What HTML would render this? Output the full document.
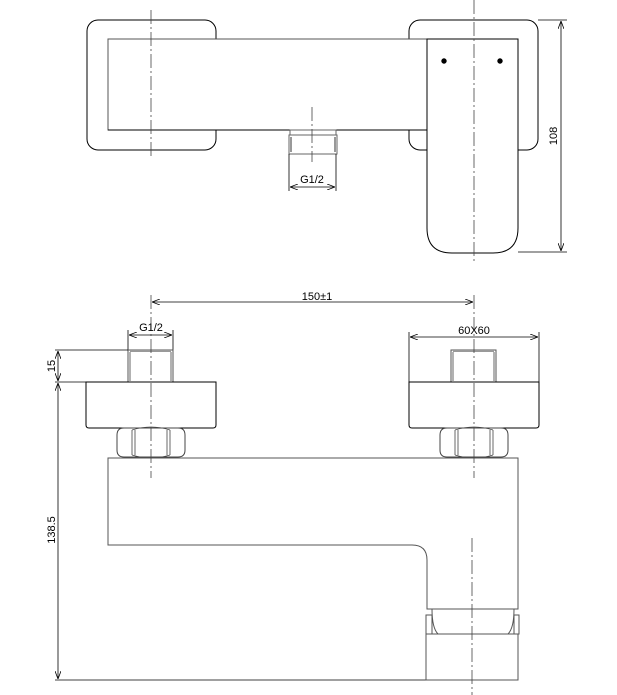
<!DOCTYPE html>
<html><head><meta charset="utf-8"><style>
html,body{margin:0;padding:0;background:#fff;width:617px;height:695px;overflow:hidden}
svg{display:block}
text{font-family:"Liberation Sans",sans-serif;font-size:11px;fill:#000}
</style></head><body>
<svg width="617" height="695" viewBox="0 0 617 695" xmlns="http://www.w3.org/2000/svg">
<defs>
<marker id="a" markerWidth="8" markerHeight="6" refX="8" refY="3" orient="auto-start-reverse" markerUnits="userSpaceOnUse"><path d="M0,0 L8,3 L0,6" fill="none" stroke="#000" stroke-width="0.8"/></marker>
</defs>
<g fill="none" stroke="#000" stroke-width="1">
<!-- TOP VIEW -->
<rect x="87" y="20" width="129" height="130" rx="11" fill="#fff"/>
<rect x="409" y="20" width="129" height="130" rx="11" fill="#fff"/>
<rect x="108" y="39" width="410" height="91" fill="#fff" stroke="#555"/>
<line x1="108" y1="130" x2="427" y2="130"/>
<path d="M427,39 H518 V228 Q518,253 493,253 H452 Q427,253 427,228 Z" fill="#fff"/>
<circle cx="444" cy="61" r="2.2" fill="#000"/>
<circle cx="500" cy="61" r="2.2" fill="#000"/>
<!-- nipple -->
<rect x="290" y="130" width="46" height="5" stroke="#666"/>
<rect x="289" y="135" width="48" height="19" stroke="#666"/>
<line x1="291" y1="137" x2="291" y2="152" stroke="#999" stroke-width="2"/>
<line x1="335" y1="137" x2="335" y2="152" stroke="#999" stroke-width="2"/>
<line x1="289" y1="154" x2="289" y2="191" stroke-width="0.8"/>
<line x1="336" y1="154" x2="336" y2="191" stroke-width="0.8"/>
<line x1="290" y1="187" x2="335" y2="187" stroke-width="0.8" marker-start="url(#a)" marker-end="url(#a)"/>
<!-- 108 dim -->
<line x1="538" y1="20" x2="567" y2="20" stroke-width="0.8"/>
<line x1="518" y1="252" x2="567" y2="252" stroke-width="0.8"/>
<line x1="561" y1="21" x2="561" y2="251" stroke-width="0.8" marker-start="url(#a)" marker-end="url(#a)"/>
<!-- centerlines top -->
<g stroke-dasharray="14,3,2,3" stroke-width="0.8" stroke="#444">
<line x1="151" y1="10" x2="151" y2="157"/>
<line x1="474" y1="0" x2="474" y2="262"/>
<line x1="312" y1="107" x2="312" y2="162"/>
</g>

<!-- FRONT VIEW -->
<line x1="152" y1="302" x2="473" y2="302" stroke-width="0.8" marker-start="url(#a)" marker-end="url(#a)"/>
<!-- G1/2 -->
<line x1="128" y1="330" x2="128" y2="352" stroke-width="0.8"/>
<line x1="173" y1="330" x2="173" y2="352" stroke-width="0.8"/>
<line x1="129" y1="335" x2="172" y2="335" stroke-width="0.8" marker-start="url(#a)" marker-end="url(#a)"/>
<!-- left nipple -->
<rect x="128" y="350" width="45" height="32" fill="#fff" stroke="#555"/>
<line x1="130" y1="351" x2="171" y2="351" stroke="#999" stroke-width="2"/>
<line x1="130" y1="352" x2="130" y2="381" stroke="#999" stroke-width="1.5"/>
<line x1="171" y1="352" x2="171" y2="381" stroke="#999" stroke-width="1.5"/>
<!-- 15 dim -->
<line x1="55" y1="350" x2="128" y2="350" stroke-width="0.8"/>
<line x1="55" y1="382" x2="87" y2="382" stroke-width="0.8"/>
<line x1="58" y1="351" x2="58" y2="381" stroke-width="0.8" marker-start="url(#a)" marker-end="url(#a)"/>
<line x1="58" y1="383" x2="58" y2="679" stroke-width="0.8" marker-start="url(#a)" marker-end="url(#a)"/>
<line x1="55" y1="680" x2="427" y2="680" stroke-width="0.8"/>
<!-- left flange -->
<path d="M86,382 H216 V425 Q216,428 213,428 H89 Q86,428 86,425 Z" fill="#fff"/>
<!-- left nut -->
<path d="M124,428 H178 Q185,428 185,435 V450 Q185,457 178,457 H124 Q117,457 117,450 V435 Q117,428 124,428 Z" stroke="#444"/>
<path d="M132,430 Q151,424 170,430 M132,455 Q151,461 170,455" stroke="#444" stroke-width="0.8"/>
<line x1="132" y1="430" x2="132" y2="455" stroke="#444" stroke-width="0.8"/><line x1="135" y1="430" x2="135" y2="455" stroke="#444" stroke-width="0.8"/>
<line x1="167" y1="430" x2="167" y2="455" stroke="#444" stroke-width="0.8"/><line x1="170" y1="430" x2="170" y2="455" stroke="#444" stroke-width="0.8"/>
<!-- right nipple & flange -->
<rect x="451" y="350" width="45" height="32" fill="#fff" stroke="#555"/>
<line x1="453" y1="351" x2="494" y2="351" stroke="#999" stroke-width="2"/>
<line x1="453" y1="352" x2="453" y2="381" stroke="#999" stroke-width="1.5"/>
<line x1="494" y1="352" x2="494" y2="381" stroke="#999" stroke-width="1.5"/>
<line x1="409" y1="332" x2="409" y2="382" stroke-width="0.8"/>
<line x1="539" y1="332" x2="539" y2="382" stroke-width="0.8"/>
<line x1="410" y1="337" x2="538" y2="337" stroke-width="0.8" marker-start="url(#a)" marker-end="url(#a)"/>
<path d="M409,382 H539 V425 Q539,428 536,428 H412 Q409,428 409,425 Z" fill="#fff"/>
<!-- right nut -->
<path d="M447,428 H501 Q508,428 508,435 V450 Q508,457 501,457 H447 Q440,457 440,450 V435 Q440,428 447,428 Z" stroke="#444"/>
<path d="M455,430 Q474,424 493,430 M455,455 Q474,461 493,455" stroke="#444" stroke-width="0.8"/>
<line x1="455" y1="430" x2="455" y2="455" stroke="#444" stroke-width="0.8"/><line x1="458" y1="430" x2="458" y2="455" stroke="#444" stroke-width="0.8"/>
<line x1="490" y1="430" x2="490" y2="455" stroke="#444" stroke-width="0.8"/><line x1="493" y1="430" x2="493" y2="455" stroke="#444" stroke-width="0.8"/>
<!-- body -->
<path d="M108,458 H518 V609 H427 V560 Q427,545 412,545 H108 Z" stroke="#555"/>
<!-- aerator -->
<path d="M432,609 Q432,628 438,634 M514,609 Q514,628 508,634" stroke="#555"/>
<rect x="426" y="615" width="6" height="19" stroke="#555"/>
<rect x="514" y="615" width="5" height="19" stroke="#555"/>
<rect x="426" y="634" width="92" height="46" stroke="#555"/>
<!-- centerlines front -->
<g stroke-dasharray="14,3,2,3" stroke-width="0.8" stroke="#444">
<line x1="151" y1="295" x2="151" y2="478"/>
<line x1="474" y1="295" x2="474" y2="478"/>
<line x1="472" y1="538" x2="472" y2="695"/>
</g>
</g>
<text x="312" y="183" text-anchor="middle">G1/2</text>
<text transform="translate(557,136) rotate(-90)" text-anchor="middle">108</text>
<text x="317" y="300" text-anchor="middle">150±1</text>
<text x="151" y="331" text-anchor="middle">G1/2</text>
<text x="474" y="334" text-anchor="middle">60X60</text>
<text transform="translate(55,366) rotate(-90)" text-anchor="middle">15</text>
<text transform="translate(55,530) rotate(-90)" text-anchor="middle">138.5</text>
</svg>
</body></html>
